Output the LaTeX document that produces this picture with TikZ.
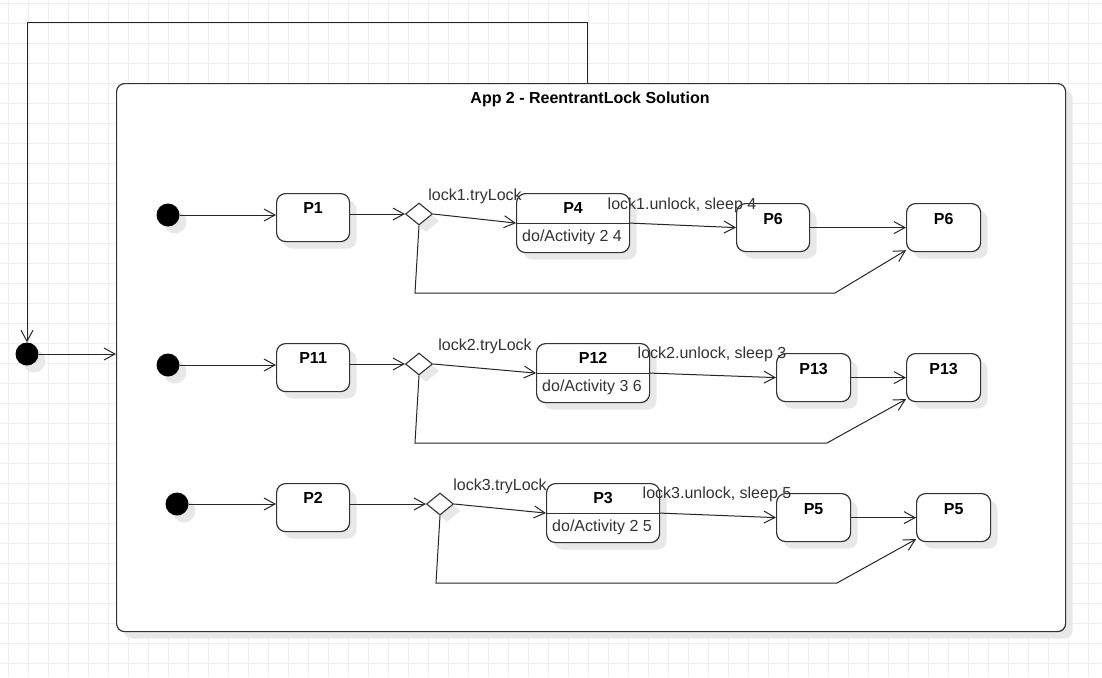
\documentclass[tikz,border=0pt]{standalone}
\usepackage{fontspec}
\setmainfont{Liberation Sans}
\usetikzlibrary{arrows.meta,shapes.geometric,shadows,calc}

\definecolor{gridc}{HTML}{EEEEEE}
\definecolor{ink}{HTML}{333333}
\definecolor{shade}{HTML}{E8E8E8}

\tikzset{
  shadowed/.style={drop shadow={shadow xshift=7pt, shadow yshift=-7pt, fill=shade, opacity=1}},
  state/.style={draw=ink, line width=1.2pt, rounded corners=9pt, fill=white, shadowed,
    inner sep=0pt, anchor=north west},
  initdot/.style={circle, fill=black, minimum size=23pt, inner sep=0pt, shadowed},
  choice/.style={diamond, draw=ink, line width=1.1pt, fill=white, minimum width=27pt,
    minimum height=22pt, inner sep=0pt, shadowed},
  flow/.style={draw=black!85, line width=1pt, -{Straight Barb[length=11pt,width=12pt]}},
  titletext/.style={font=\fontsize{16}{18}\selectfont\bfseries, text=black, inner sep=0pt},
  activity/.style={font=\fontsize{16}{18}\selectfont, text=ink, inner sep=0pt, anchor=west},
  guard/.style={font=\fontsize{16}{18}\selectfont, text=ink, inner sep=0pt},
}

\begin{document}
\begin{tikzpicture}[x=1pt, y=-1pt]
  \useasboundingbox (0,0) rectangle (1102,677);
  \fill[white] (0,0) rectangle (1102,677);

  % background grid
  \foreach \gx in {8.3,28.3,...,1102} \draw[gridc, line width=1pt] (\gx,0) -- (\gx,677);
  \foreach \gy in {3.3,23.3,...,677} \draw[gridc, line width=1pt] (0,\gy) -- (1102,\gy);

  % container
  \node[state, rounded corners=8pt, minimum width=949pt, minimum height=548pt] (app) at (116,83) {};
  \node[titletext] (apptitle) at (590,99) {App 2 - ReentrantLock Solution};

  % outer initial state and loop back
  \node[initdot] (i0) at (27,354) {};
  \coordinate (loopTop) at (587,23);
  \draw[flow] (app.north -| loopTop) -- (loopTop) -- (i0 |- loopTop) -- (i0);
  \draw[flow] (i0) -- (app.west |- i0);

  % ---------- row 1 ----------
  \node[initdot] (i1) at (168,215) {};
  \node[state, minimum width=73pt, minimum height=48pt] (P1) at (276,193) {};
  \node[titletext] (P1t) at ([yshift=-15pt]P1.north) {P1};
  \node[choice] (D1) at (419,214) {};
  \node[state, minimum width=113pt, minimum height=59pt] (P4) at (516,193) {};
  \draw[ink, line width=1.2pt] (P4.west) -- (P4.east);
  \node[titletext] (P4t) at ([yshift=-15pt]P4.north) {P4};
  \node[activity] (P4a) at ([xshift=6pt,yshift=-44.5pt]P4.north west) {do/Activity 2 4};
  \node[state, minimum width=73pt, minimum height=48pt] (P6a) at (736,203) {};
  \node[titletext] (P6at) at ([yshift=-16pt]P6a.north) {P6};
  \node[state, minimum width=74pt, minimum height=48pt] (P6b) at (906,203) {};
  \node[titletext] (P6bt) at ([yshift=-16pt]P6b.north) {P6};

  \draw[flow] (i1) -- (P1.west |- i1);
  \draw[flow] (P1.east |- D1) -- (D1);
  \draw[flow] (D1.east) -- (P4.west);
  \draw[flow] (P4.east) -- (P6a.west);
  \draw[flow] (P6a.east) -- (P6b.west);
  \draw[flow] (D1.south) -- (415,293) -- (835,293) -- ([yshift=2pt]P6b.south west);
  \node[guard] (g1) at (475,196) {lock1.tryLock};
  \node[guard] (u1) at (682,205) {lock1.unlock, sleep 4};

  % ---------- row 2 ----------
  \node[initdot] (i2) at (168,365) {};
  \node[state, minimum width=73pt, minimum height=48pt] (P11) at (276,343) {};
  \node[titletext] (P11t) at ([yshift=-15pt]P11.north) {P11};
  \node[choice] (D2) at (419,364) {};
  \node[state, minimum width=113pt, minimum height=59pt] (P12) at (536,343) {};
  \draw[ink, line width=1.2pt] (P12.west) -- (P12.east);
  \node[titletext] (P12t) at ([yshift=-15pt]P12.north) {P12};
  \node[activity] (P12a) at ([xshift=6pt,yshift=-44.5pt]P12.north west) {do/Activity 3 6};
  \node[state, minimum width=74pt, minimum height=48pt] (P13a) at (776,353) {};
  \node[titletext] (P13at) at ([yshift=-16pt]P13a.north) {P13};
  \node[state, minimum width=74pt, minimum height=48pt] (P13b) at (906,353) {};
  \node[titletext] (P13bt) at ([yshift=-16pt]P13b.north) {P13};

  \draw[flow] (i2) -- (P11.west |- i2);
  \draw[flow] (P11.east |- D2) -- (D2);
  \draw[flow] (D2.east) -- (P12.west);
  \draw[flow] (P12.east) -- (P13a.west);
  \draw[flow] (P13a.east) -- (P13b.west);
  \draw[flow] (D2.south) -- (415,443) -- (827,443) -- ([yshift=3pt]P13b.south west);
  \node[guard] (g2) at (485,346) {lock2.tryLock};
  \node[guard] (u2) at (712,354) {lock2.unlock, sleep 3};

  % ---------- row 3 ----------
  \node[initdot] (i3) at (177,504) {};
  \node[state, minimum width=73pt, minimum height=48pt] (P2) at (276,483) {};
  \node[titletext] (P2t) at ([yshift=-15pt]P2.north) {P2};
  \node[choice] (D3) at (440,504) {};
  \node[state, minimum width=113pt, minimum height=59pt] (P3) at (546,483) {};
  \draw[ink, line width=1.2pt] (P3.west) -- (P3.east);
  \node[titletext] (P3t) at ([yshift=-15pt]P3.north) {P3};
  \node[activity] (P3a) at ([xshift=6pt,yshift=-44.5pt]P3.north west) {do/Activity 2 5};
  \node[state, minimum width=74pt, minimum height=48pt] (P5a) at (776,493) {};
  \node[titletext] (P5at) at ([yshift=-16pt]P5a.north) {P5};
  \node[state, minimum width=74pt, minimum height=48pt] (P5b) at (916,493) {};
  \node[titletext] (P5bt) at ([yshift=-16pt]P5b.north) {P5};

  \draw[flow] (i3) -- (P2.west |- i3);
  \draw[flow] (P2.east |- D3) -- (D3);
  \draw[flow] (D3.east) -- (P3.west);
  \draw[flow] (P3.east) -- (P5a.west);
  \draw[flow] (P5a.east) -- (P5b.west);
  \draw[flow] (D3.south) -- (436,583) -- (837,583) -- ([yshift=3pt]P5b.south west);
  \node[guard] (g3) at (500,486) {lock3.tryLock};
  \node[guard] (u3) at (717,494) {lock3.unlock, sleep 5};
\end{tikzpicture}
\end{document}
